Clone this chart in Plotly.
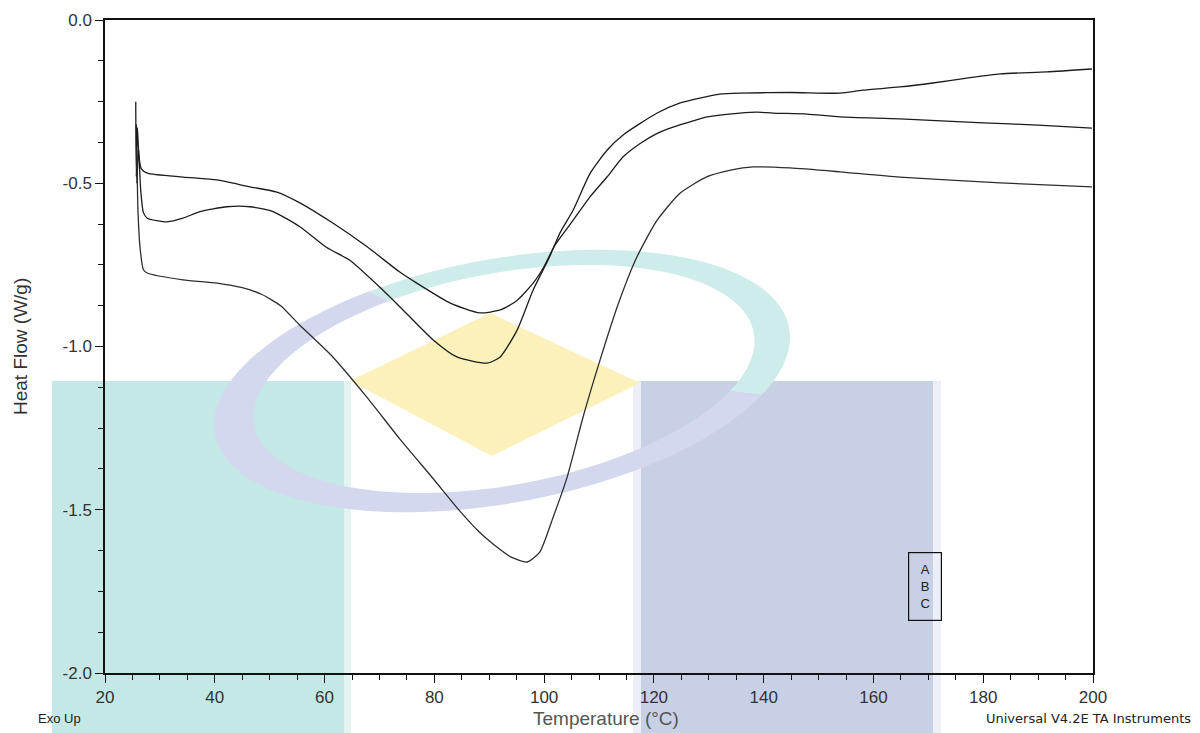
import numpy as np
import plotly.graph_objects as go

# ---------------- data ----------------
a_temp = [25.6, 25.7, 25.9, 26.2, 26.6, 27.7, 34.2, 40.4, 46.4, 51.3, 55.5, 61.5, 67.7,
          73.7, 76.8, 82.9, 88.3, 92.0, 95.0, 98.0, 100.0, 102.0, 105.3, 108.4, 111.5,
          114.4, 117.5, 120.6, 123.5, 126.6, 129.7, 135.7, 138.8, 141.7, 147.9, 153.9,
          164.8, 180.0, 190.0, 199.8]
a_flow = [-0.25, -0.48, -0.33, -0.42, -0.455, -0.469, -0.481, -0.490, -0.511, -0.527,
          -0.560, -0.622, -0.694, -0.772, -0.806, -0.867, -0.897, -0.888, -0.860, -0.806,
          -0.755, -0.689, -0.613, -0.541, -0.480, -0.419, -0.378, -0.347, -0.328, -0.312,
          -0.297, -0.285, -0.282, -0.285, -0.288, -0.297, -0.303, -0.315, -0.322, -0.331]

b_temp = [25.7, 25.8, 26.1, 26.5, 27.0, 27.7, 31.3, 34.2, 37.3, 42.2, 46.4, 50.6, 55.5,
          60.4, 64.6, 70.6, 73.7, 79.8, 84.1, 89.6, 92.0, 95.1, 98.0, 100.9, 102.9, 105.3,
          108.4, 111.5, 114.4, 120.6, 124.8, 128.4, 132.0, 135.7, 145.0, 153.9, 158.0,
          164.8, 170.8, 177.0, 183.1, 191.6, 199.8]
b_flow = [-0.32, -0.50, -0.39, -0.52, -0.59, -0.607, -0.618, -0.607, -0.587, -0.572,
          -0.572, -0.587, -0.633, -0.697, -0.736, -0.827, -0.878, -0.980, -1.032, -1.051,
          -1.032, -0.949, -0.827, -0.729, -0.652, -0.582, -0.469, -0.398, -0.352, -0.285,
          -0.254, -0.239, -0.227, -0.224, -0.222, -0.224, -0.215, -0.205, -0.193, -0.178,
          -0.165, -0.159, -0.150]

c_temp = [25.8, 26.0, 26.4, 27.0, 27.7, 34.2, 40.4, 45.0, 48.5, 52.0, 55.5, 61.5, 67.7,
          73.7, 79.8, 84.7, 88.0, 90.7, 94.0, 96.9, 99.2, 101.6, 104.2, 107.1, 110.2,
          113.5, 116.9, 120.6, 124.8, 129.7, 134.0, 138.1, 144.8, 153.9, 164.8, 183.1, 199.8]
c_flow = [-0.40, -0.58, -0.70, -0.765, -0.775, -0.796, -0.806, -0.820, -0.840, -0.875,
          -0.935, -1.032, -1.155, -1.283, -1.405, -1.505, -1.565, -1.605, -1.645, -1.660,
          -1.630, -1.525, -1.400, -1.216, -1.041, -0.870, -0.726, -0.613, -0.530, -0.480,
          -0.460, -0.450, -0.453, -0.465, -0.481, -0.499, -0.511]

x_ticks = [20, 40, 60, 80, 100, 120, 140, 160, 180, 200]
x_ticktext = ["20", "40", "60", "80", "100", "120", "140", "160", "180", "200"]
y_ticks = [-2.0, -1.5, -1.0, -0.5, 0.0]
y_ticktext = ["-2.0", "-1.5", "-1.0", "-0.5", "0.0"]
legend_labels = ["A", "B", "C"]

# ---------------- layout geometry ----------------
W, H = 1200, 733
ML, MR, MT, MB = 105, 107, 20, 60
PW = W - ML - MR
PH = H - MT - MB


def pp(px, py):
    return (px - ML) / PW, (H - MB - py) / PH


def poly_path(pts):
    s = ""
    for i, (x, y) in enumerate(pts):
        X, Y = pp(x, y)
        s += ("M" if i == 0 else "L") + f"{X:.5f},{Y:.5f}"
    return s + "Z"


def ell(cx, cy, a, b, th, t):
    X = a * np.cos(t)
    Y = b * np.sin(t)
    xr = X * np.cos(th) - Y * np.sin(th)
    yr = X * np.sin(th) + Y * np.cos(th)
    return cx + xr, cy - yr


TH = np.radians(10.5)


def ring_seg(t1, t2):
    t = np.radians(np.linspace(t1, t2, 90))
    ox, oy = ell(502, 381, 292, 122, TH, t)
    ix, iy = ell(504, 379, 254, 106, TH, t[::-1])
    return list(zip(ox, oy)) + list(zip(ix, iy))


shapes = []


def rect(x0, y0, x1, y1, color):
    X0, Y0 = pp(x0, y0)
    X1, Y1 = pp(x1, y1)
    shapes.append(dict(type="rect", xref="paper", yref="paper", x0=X0, y0=Y0, x1=X1, y1=Y1,
                       fillcolor=color, line=dict(width=0), layer="below"))


# watermark blocks
rect(52, 381, 351, 740, "#e3f4f3")
rect(52, 381, 344, 740, "#c3e8e6")
rect(633, 381, 941, 740, "#eceff8")
rect(641, 381, 933, 740, "#c8d0e6")
# ring
shapes.append(dict(type="path", xref="paper", yref="paper", path=poly_path(ring_seg(-30, 113)),
                   fillcolor="#cdecea", line=dict(width=0), layer="below"))
shapes.append(dict(type="path", xref="paper", yref="paper", path=poly_path(ring_seg(113, 330)),
                   fillcolor="#d3d8ee", line=dict(width=0), layer="below"))
# yellow diamond
shapes.append(dict(type="path", xref="paper", yref="paper",
                   path=poly_path([(350, 381), (490, 313), (640, 383), (492, 456)]),
                   fillcolor="#fcf1ba", line=dict(width=0), layer="below"))

fig = go.Figure()
for name, xs, ys, col in [("A", a_temp, a_flow, "#1c1c1c"),
                          ("B", b_temp, b_flow, "#1c1c1c"),
                          ("C", c_temp, c_flow, "#2e2e2e")]:
    fig.add_trace(go.Scatter(x=xs, y=ys, mode="lines", name=name,
                             line=dict(color=col, width=1.3, shape="spline", smoothing=0.6)))

FONT = "Liberation Sans, Arial, sans-serif"
ann = []
lx, ly = pp(925, 586)
ann.append(dict(xref="paper", yref="paper", x=lx, y=ly, text="<br>".join(legend_labels),
                showarrow=False, font=dict(family=FONT, size=13, color="#222"),
                bordercolor="#111", borderwidth=1.2, borderpad=0, width=32, height=67,
                align="center", xanchor="center", yanchor="middle"))
tx, ty = pp(606, 719)
ann.append(dict(xref="paper", yref="paper", x=tx, y=ty, text="Temperature (°C)", showarrow=False,
                font=dict(family=FONT, size=19, color="#555"), xanchor="center", yanchor="middle"))
yx, yy = pp(21, 347)
ann.append(dict(xref="paper", yref="paper", x=yx, y=yy, text="Heat Flow (W/g)", showarrow=False,
                textangle=-90, font=dict(family=FONT, size=19, color="#333"),
                xanchor="center", yanchor="middle"))
ex, ey = pp(59, 719)
ann.append(dict(xref="paper", yref="paper", x=ex, y=ey, text="Exo Up", showarrow=False,
                font=dict(family=FONT, size=13, color="#222"), xanchor="center", yanchor="middle"))
ux, uy = pp(1088, 718)
ann.append(dict(xref="paper", yref="paper", x=ux, y=uy, text="Universal V4.2E TA Instruments",
                showarrow=False, font=dict(family="DejaVu Sans, sans-serif", size=13, color="#222"),
                xanchor="center", yanchor="middle"))

axis_common = dict(showgrid=False, zeroline=False, showline=True, linecolor="#111", linewidth=1.5,
                   mirror=True, ticks="outside", ticklen=8, tickwidth=1.3, tickcolor="#111",
                   tickfont=dict(family=FONT, size=17, color="#333"))

fig.update_layout(
    width=W, height=H, margin=dict(l=ML, r=MR, t=MT, b=MB),
    paper_bgcolor="white", plot_bgcolor="rgba(0,0,0,0)",
    showlegend=False, shapes=shapes, annotations=ann,
    xaxis=dict(range=[20, 200], tickvals=x_ticks, ticktext=x_ticktext,
               minor=dict(dtick=5, tick0=20, ticks="outside", ticklen=5, tickwidth=1.2,
                          tickcolor="#111"), **axis_common),
    yaxis=dict(range=[-2, 0], tickvals=y_ticks, ticktext=y_ticktext,
               minor=dict(dtick=0.125, tick0=0, ticks="outside", ticklen=5, tickwidth=1.2,
                          tickcolor="#111"), **axis_common),
)

fig.write_html("out.html")
